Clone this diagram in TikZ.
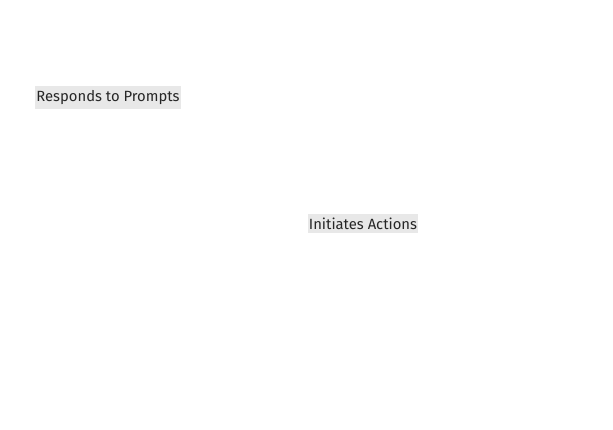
\documentclass[tikz,border=0pt]{standalone}
\usepackage{fontspec}
\setmainfont{Fira Sans}
\usepackage{tikz}
\usetikzlibrary{positioning}

\begin{document}
\begin{tikzpicture}[
  x=1pt, y=-1pt,
  tag/.style={fill=gray!18, inner xsep=1pt, inner ysep=4pt, font=\fontsize{14.8}{17}\selectfont, text=black!85}
]
\useasboundingbox (0,0) rectangle (613,430);
% Nodes
\node[tag] (resp) at (108,97.5) {Responds to Prompts};  % upper left label
\node[tag] (init) at (363,223.5) {Initiates Actions};  % middle label
\end{tikzpicture}
\end{document}
